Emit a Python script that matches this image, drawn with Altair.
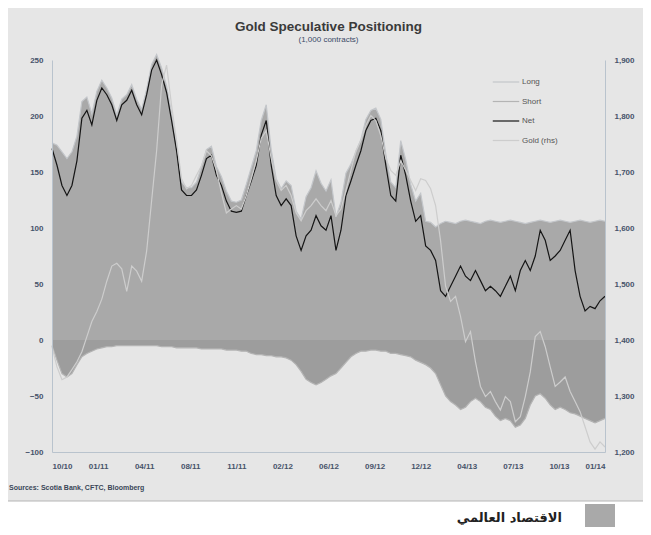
import json
import altair as alt
import pandas as pd

# ---- data (weekly points) ----
x_labels = ["10/10", "01/11", "04/11", "08/11", "11/11", "02/12", "06/12",
            "09/12", "12/12", "04/13", "07/13", "10/13", "01/14"]

net = [171, 156, 138, 129, 138, 160, 198, 205, 192, 214,
       225, 219, 210, 196, 210, 214, 223, 210, 201, 219,
       241, 250, 237, 221, 196, 169, 134, 129, 129, 134,
       147, 162, 165, 147, 138, 124, 115, 114, 115, 129,
       142, 156, 183, 196, 156, 129, 120, 126, 120, 93,
       80, 93, 98, 111, 102, 98, 111, 80, 98, 129,
       142, 156, 169, 187, 196, 198, 187, 156, 129, 124,
       165, 147, 124, 106, 111, 84, 80, 71, 44, 39,
       48, 57, 66, 57, 53, 62, 53, 44, 48, 44,
       39, 48, 57, 44, 62, 71, 62, 75, 98, 89,
       71, 75, 80, 89, 98, 62, 39, 26, 30, 28,
       35, 39]

long_pos = [176, 174, 168, 162, 168, 182, 213, 217, 202, 222,
            232, 225, 216, 201, 215, 219, 228, 215, 206, 224,
            246, 255, 243, 227, 202, 176, 141, 136, 136, 141,
            155, 170, 173, 155, 146, 133, 124, 123, 125, 139,
            154, 169, 196, 210, 170, 144, 135, 142, 138, 115,
            108, 128, 136, 151, 140, 133, 143, 110, 123, 149,
            157, 168, 179, 197, 205, 207, 197, 166, 141, 136,
            178, 161, 139, 124, 131, 106, 105, 101, 104, 106,
            105, 104, 106, 107, 106, 105, 104, 106, 107, 106,
            105, 106, 107, 106, 105, 104, 105, 106, 107, 106,
            105, 106, 107, 106, 105, 106, 107, 106, 105, 106,
            107, 106]

short_pos = [-5, -18, -30, -33, -30, -22, -15, -12, -10, -8,
             -7, -6, -6, -5, -5, -5, -5, -5, -5, -5,
             -5, -5, -6, -6, -6, -7, -7, -7, -7, -7,
             -8, -8, -8, -8, -8, -9, -9, -9, -10, -10,
             -12, -13, -13, -14, -14, -15, -15, -16, -18, -22,
             -28, -35, -38, -40, -38, -35, -32, -30, -25, -20,
             -15, -12, -10, -10, -9, -9, -10, -10, -12, -12,
             -13, -14, -15, -18, -20, -22, -25, -30, -40, -50,
             -55, -58, -62, -60, -55, -52, -55, -60, -62, -68,
             -72, -70, -72, -78, -76, -70, -58, -50, -48, -52,
             -58, -62, -60, -62, -65, -66, -68, -70, -72, -74,
             -72, -70]

gold = [1388, 1352, 1329, 1334, 1347, 1361, 1379, 1406, 1433, 1451,
        1473, 1505, 1532, 1537, 1527, 1487, 1532, 1523, 1505, 1559,
        1649, 1738, 1855, 1891, 1819, 1756, 1688, 1670, 1676, 1694,
        1711, 1738, 1729, 1703, 1663, 1627, 1634, 1640, 1634, 1658,
        1688, 1720, 1760, 1774, 1724, 1685, 1667, 1676, 1658, 1627,
        1613, 1631, 1640, 1652, 1640, 1631, 1649, 1622, 1634, 1667,
        1703, 1738, 1756, 1783, 1801, 1792, 1765, 1724, 1703, 1694,
        1720, 1703, 1685, 1667, 1688, 1685, 1670, 1640, 1577, 1496,
        1469, 1478, 1442, 1397, 1415, 1361, 1317, 1299, 1308, 1290,
        1275, 1299, 1290, 1254, 1263, 1299, 1343, 1406, 1415, 1388,
        1352, 1317, 1325, 1334, 1308, 1290, 1272, 1245, 1218, 1205,
        1218, 1209]

left_ticks = [-100, -50, 0, 50, 100, 150, 200, 250]
right_ticks = [1200, 1300, 1400, 1500, 1600, 1700, 1800, 1900]
series_names = ["Long", "Short", "Net", "Gold (rhs)"]

n = len(net)
df = pd.DataFrame({"i": list(range(n)), "Long": long_pos, "Short": short_pos,
                   "Net": net, "Gold": gold})

W, H = 553, 392
FONT = "Liberation Sans"
AX_COL = "#46536a"

color_scale = alt.Scale(domain=series_names,
                        range=["#c3c6ca", "#b4b4b4", "#151515", "#cdcdcd"])
width_scale = alt.Scale(domain=series_names, range=[1.2, 1.2, 2.6, 1.4])
legend = alt.Legend(title=None, orient="none", legendX=440, legendY=8,
                    symbolType="stroke", symbolSize=700, labelFontSize=8,
                    labelColor="#555555", labelFont=FONT, rowPadding=1.5,
                    labelOffset=2, zindex=1)

tick_vals = [k * (n - 1) / 12 for k in range(13)]
label_expr = json.dumps(x_labels) + f"[round(datum.value*12/{n - 1})]"

x_enc = alt.X("i:Q", scale=alt.Scale(domain=[0, n - 1], nice=False, zero=False),
              axis=alt.Axis(values=tick_vals, labelExpr=label_expr, title=None,
                            grid=False, ticks=False, domainColor="#b9c3cd",
                            labelFontSize=8, labelColor=AX_COL, labelFont=FONT,
                            labelPadding=10, labelFontWeight="bold", zindex=1))

yl_scale = alt.Scale(domain=[-100, 250], nice=False, zero=False)
yl_axis = alt.Axis(values=left_ticks, title=None, grid=False, ticks=False,
                   domainColor="#b9c3cd", labelFontSize=8, labelColor=AX_COL,
                   labelFont=FONT, labelPadding=9, labelFontWeight="bold", zindex=1)

one = pd.DataFrame({"k": [0]})

# white strip under the grey panel, with a thin edge line
strip = alt.Chart(one).mark_rect(color="white", stroke="#b5b5b5", strokeWidth=1).encode(
    x=alt.value(-60), x2=alt.value(600), y=alt.value(441), y2=alt.value(480))

area_long = alt.Chart(df).mark_area(color="#a9a9a9", opacity=1).encode(
    x=x_enc, y=alt.Y("Long:Q", scale=yl_scale, axis=yl_axis), y2=alt.datum(0))

area_short = alt.Chart(df).mark_area(color="#9d9d9d", opacity=1).encode(
    x=x_enc, y=alt.Y("Short:Q", scale=yl_scale, axis=yl_axis), y2=alt.datum(0))

ls_lines = alt.Chart(df).transform_fold(["Long", "Short"], as_=["series", "value"]).mark_line().encode(
    x=x_enc, y=alt.Y("value:Q", scale=yl_scale, axis=yl_axis),
    color=alt.Color("series:N", scale=color_scale, legend=legend),
    strokeWidth=alt.StrokeWidth("series:N", scale=width_scale, legend=legend))

gold_line = alt.Chart(df).transform_calculate(series="'Gold (rhs)'").mark_line().encode(
    x=x_enc,
    y=alt.Y("Gold:Q", scale=alt.Scale(domain=[1200, 1900], nice=False, zero=False),
            axis=alt.Axis(orient="right", values=right_ticks,
                          labelExpr="format(datum.value, ',')", title=None,
                          grid=False, ticks=False, domainColor="#b9c3cd",
                          labelFontSize=8, labelColor=AX_COL, labelFont=FONT,
                          labelPadding=9, labelFontWeight="bold", zindex=1)),
    color=alt.Color("series:N", scale=color_scale, legend=legend),
    strokeWidth=alt.StrokeWidth("series:N", scale=width_scale, legend=legend))

net_line = alt.Chart(df).transform_calculate(series="'Net'").mark_line().encode(
    x=x_enc, y=alt.Y("Net:Q", scale=yl_scale, axis=yl_axis),
    color=alt.Color("series:N", scale=color_scale, legend=legend),
    strokeWidth=alt.StrokeWidth("series:N", scale=width_scale, legend=legend))

source = alt.Chart(one).mark_text(align="left", baseline="middle", fontSize=7,
                                  fontWeight="bold", font=FONT, color="#3a4658").encode(
    x=alt.value(-43), y=alt.value(428), text=alt.value("Sources: Scotia Bank, CFTC, Bloomberg"))

box = alt.Chart(one).mark_rect(color="#a9a9a9").encode(
    x=alt.value(533), x2=alt.value(563), y=alt.value(444), y2=alt.value(470))

arabic = alt.Chart(one).mark_text(align="right", baseline="middle", fontSize=13,
                                  fontWeight="bold", font="DejaVu Sans", color="#222222").encode(
    x=alt.value(510), y=alt.value(458), text=alt.value("الاقتصاد العالمي"))

left_layer = alt.layer(strip, area_long, area_short, ls_lines, net_line, source, box, arabic)

chart = alt.layer(left_layer, gold_line).resolve_scale(y="independent").properties(
    width=W, height=H,
    autosize="none",
    padding={"left": 44, "top": 52, "right": 38, "bottom": 75},
    background="#e6e6e6",
    title=alt.Title("Gold Speculative Positioning", subtitle="(1,000 contracts)",
                    fontSize=13.5, font=FONT, fontWeight="bold", color="#3a3a3a",
                    subtitleFontSize=8, subtitleFont=FONT, subtitleColor="#3a4a66",
                    subtitlePadding=3, anchor="middle", frame="group", offset=8,
                    zindex=1),
).configure_view(stroke=None)

chart.save("out.html", embed_options={"renderer": "svg", "actions": False})
